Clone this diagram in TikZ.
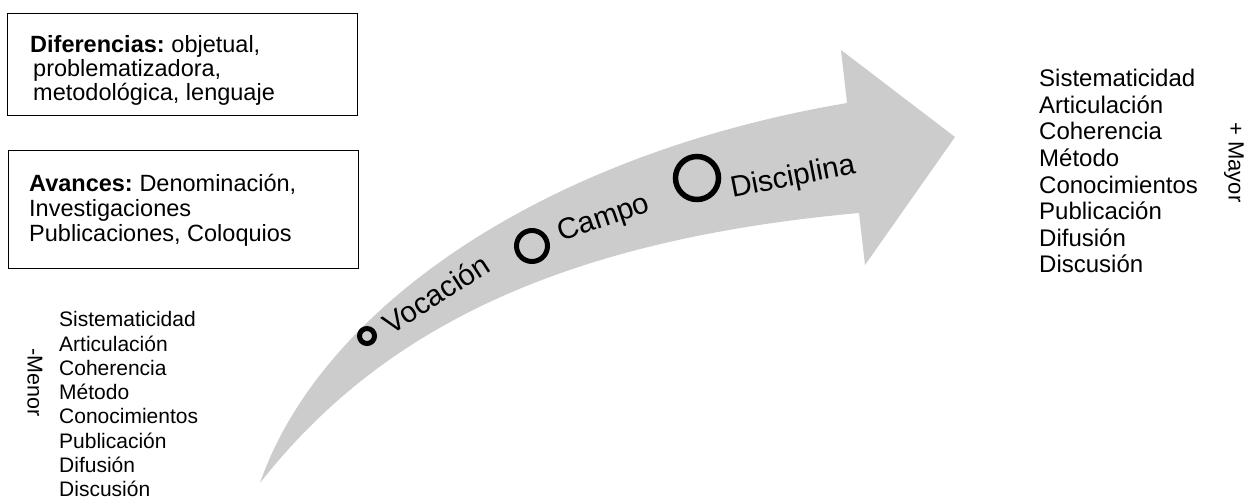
\documentclass[tikz,border=0pt]{standalone}
\usepackage{fontspec}
\setmainfont{Liberation Sans}
\definecolor{arrowgray}{HTML}{CCCCCC}
\begin{document}
\begin{tikzpicture}[x=1pt,y=-1pt,
  framebox/.style={draw=black, line width=1.3pt, inner sep=0pt, anchor=north west},
  boxtext/.style={inner sep=0pt, anchor=base west, font=\fontsize{23.5}{26}\selectfont},
  bigtext/.style={inner sep=0pt, anchor=base west, font=\fontsize{24}{27}\selectfont},
  smalltext/.style={inner sep=0pt, anchor=base west, font=\fontsize{21}{24}\selectfont},
  ring/.style={circle, draw=black, inner sep=0pt},
  stagetext/.style={inner sep=0pt, font=\fontsize{29.5}{33}\selectfont},
  sidetext/.style={inner sep=0pt, rotate=-90}]
\useasboundingbox (0,0) rectangle (1246,500);

% curved gray arrow
\fill[arrowgray] (260,483) .. controls (320,310) and (540,155) .. (847,103)
  -- (841,50) -- (955,137) -- (865,265) -- (859,213)
  .. controls (560,240) and (380,330) .. (260,483) -- cycle;

% stage markers
\node[ring, line width=5pt, minimum size=15pt] (voc) at (367,336) {};
\node[ring, line width=5pt, minimum size=31pt] (cam) at (532,246) {};
\node[ring, line width=5.5pt, minimum size=43pt] (dis) at (697,178) {};
\node[stagetext, rotate=33] (voct) at (436,294) {Vocación};
\node[stagetext, rotate=19] (camt) at (604,219.5) {Campo};
\node[stagetext, rotate=11] (dist) at (793,178) {Disciplina};

% boxes
\node[framebox, minimum width=350pt, minimum height=102pt] (dif) at (7,13) {};
\node[framebox, minimum width=350pt, minimum height=118pt] (ava) at (8,150) {};
\node[boxtext] (dif1) at (30,52.7) {\textbf{Diferencias:}\hspace{-2pt} objetual,};
\node[boxtext] (dif2) at (33,77) {problematizadora,};
\node[boxtext] (dif3) at (33,101) {metodológica, lenguaje};
\node[boxtext] (ava1) at (29,191) {\textbf{Avances:}\hspace{-2pt} Denominación,};
\node[boxtext] (ava2) at (29,216) {Investigaciones};
\node[boxtext] (ava3) at (29,241) {Publicaciones, Coloquios};

% criteria lists
\foreach \t [count=\i from 0] in {Sistematicidad,Articulación,Coherencia,Método,Conocimientos,Publicación,Difusión,Discusión}{
  \node[bigtext] (r\i) at (1039,86.7+26.6*\i) {\t};
  \node[smalltext] (l\i) at (59,326.7+24.3*\i) {\t};
}

% scale labels
\node[sidetext, font=\fontsize{21.5}{24}\selectfont] (menor) at (35,382.5) {-Menor};
\node[sidetext, font=\fontsize{22}{25}\selectfont] (mayor) at (1234,162.5) {+ Mayor};
\end{tikzpicture}
\end{document}
